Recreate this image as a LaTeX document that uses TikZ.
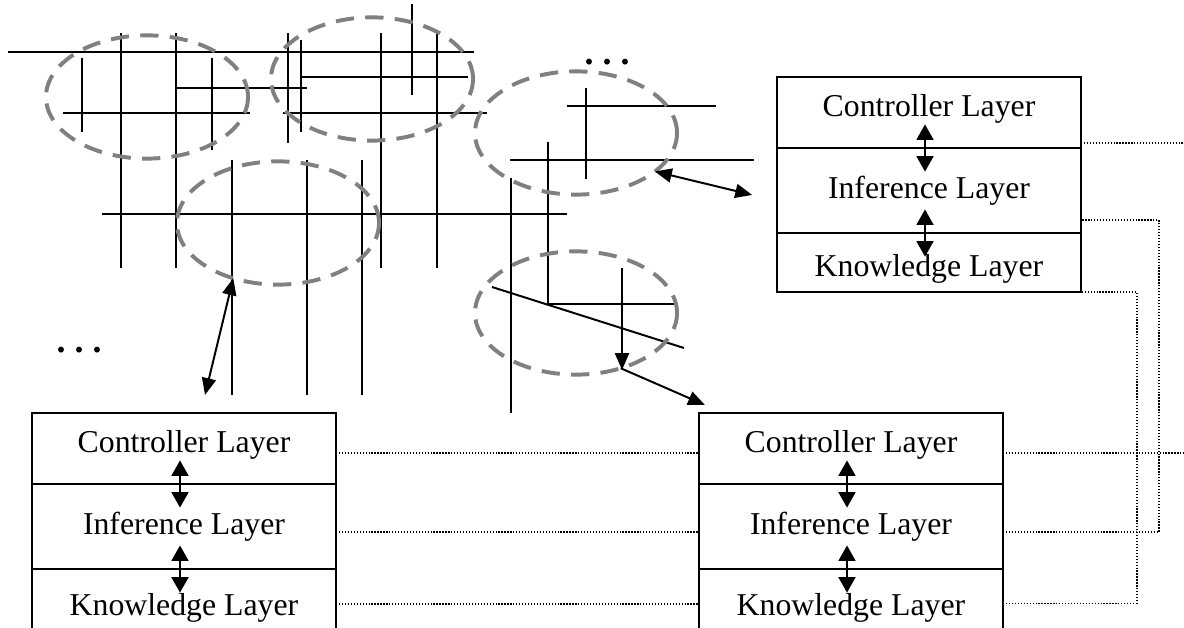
\documentclass[tikz,border=0pt]{standalone}
\usepackage{fontspec}
\setmainfont{Liberation Serif}
\usetikzlibrary{positioning, shapes.geometric, arrows.meta}

\begin{document}
\begin{tikzpicture}[
    x=0.025cm, y=-0.025cm, % one unit is one pixel of the sketch
    >={Triangle[length=12pt, width=10pt]},
    % Styles
    wire/.style={ % Network segments
        line width=1.4pt
    },
    region/.style={ % Dashed neighbourhood of an agent
        ellipse,
        draw=gray,
        line width=2.8pt,
        dash pattern=on 13pt off 8pt,
        minimum width=5.05cm,
        minimum height=3.08cm,
        inner sep=0pt,
        outer sep=0pt
    },
    layer/.style={ % One row of an agent box
        rectangle,
        draw,
        line width=1.5pt,
        minimum width=7.6cm,
        inner sep=0pt,
        outer sep=0pt,
        font=\fontsize{22.6}{27}\selectfont
    },
    ctrl/.style={layer, minimum height=1.775cm, text depth=10pt},
    infer/.style={layer, minimum height=2.125cm},
    know/.style={layer, minimum height=1.925cm},
    arrow/.style={<->, line width=1.4pt},
    updown/.style={ % Arrows between two layers
        {Triangle[length=11pt, width=12pt]}-{Triangle[length=11pt, width=12pt]},
        line width=1.5pt
    },
    link/.style={ % Dotted links between agents
        line width=0.9pt,
        dash pattern=on 0.9pt off 1.2pt
    },
    dots/.style={font=\fontsize{25.6}{30}\selectfont\bfseries, inner sep=0pt}
]
    \useasboundingbox (0,0) rectangle (1184,628);

    % Road network
    \foreach \x/\ya/\yb in {121/33/268, 176/33/268, 82/58/132, 212/58/150,
        288/33/143, 301/40/132, 381/33/268, 412/4/95, 437/33/268,
        232/160/395, 307/160/395, 362/160/395, 511/178/413, 548/142/304,
        586/88/179}
        \draw[wire] (\x,\ya) -- (\x,\yb);
    \foreach \y/\xa/\xb in {52/8/474, 88/176/307, 113/63/250, 77/301/468,
        113/283/487, 214/102/567, 160/510/754, 106/567/716, 304/548/677}
        \draw[wire] (\xa,\y) -- (\xb,\y);
    \draw[wire] (492,287) -- (684,348);
    \draw[wire, ->] (622,268) -- (622,370);

    % Agent regions
    \node[region] (r1) at (147,97) {};
    \node[region] (r2) at (372,79) {};
    \node[region] (r3) at (278,223) {};
    \node[region] (r4) at (576,133) {};
    \node[region] (r5) at (576,313) {};

    \node[dots] (moreTop) at (607,62) {.\ .\ .};
    \node[dots] (moreLeft) at (79,350) {.\ .\ .};

    % Agent boxes
    \node[ctrl, anchor=north] (ctrlA) at (929,77) {Controller Layer};
    \node[infer] (infA) [below=0pt of ctrlA] {Inference Layer};
    \node[know, minimum height=1.475cm, text height=24.5pt] (knowA) [below=0pt of infA] {Knowledge Layer};

    \node[ctrl, anchor=north] (ctrlB) at (184,413) {Controller Layer};
    \node[infer] (infB) [below=0pt of ctrlB] {Inference Layer};
    \node[know] (knowB) [below=0pt of infB] {Knowledge Layer};

    \node[ctrl, anchor=north] (ctrlC) at (851,413) {Controller Layer};
    \node[infer] (infC) [below=0pt of ctrlC] {Inference Layer};
    \node[know] (knowC) [below=0pt of infC] {Knowledge Layer};

    \foreach \b in {A,B,C} {
        \draw[updown] ([xshift=-0.1cm, yshift=0.59cm]ctrl\b.south) -- ([xshift=-0.1cm, yshift=-0.59cm]ctrl\b.south);
        \draw[updown] ([xshift=-0.1cm, yshift=0.59cm]inf\b.south) -- ([xshift=-0.1cm, yshift=-0.59cm]inf\b.south);
    }

    % Regions to agents
    \draw[arrow] (r4.-26) -- ([xshift=-0.62cm, yshift=-0.11cm]infA.west);
    \draw[arrow] (r3.231) -- ([xshift=0.525cm, yshift=0.45cm]ctrlB.north);
    \draw[->, line width=1.4pt] (r5.-51) -- ([xshift=0.15cm, yshift=0.2cm]ctrlC.north west);

    % Links between agents
    \coordinate (rim) at (1184,0);
    \coordinate (busI) at (1159,0);
    \coordinate (busK) at (1137,0);
    \coordinate (outA) at ([yshift=0.125cm]ctrlA.south east);
    \coordinate (outC) at ([yshift=-0.11cm]ctrlC.east);
    \coordinate (infAport) at ([yshift=-0.74cm]infA.east);
    \coordinate (infCport) at ([yshift=-0.14cm]infC.east);
    \coordinate (knowCport) at ([yshift=0.11cm]knowC.east);

    \draw[link] (outA) -- (outA -| rim);
    \draw[link] (outC) -- (outC -| rim);
    \draw[link] ([yshift=-0.11cm]ctrlB.east) -- ([yshift=-0.11cm]ctrlC.west);
    \draw[link] ([yshift=-0.14cm]infB.east) -- ([yshift=-0.14cm]infC.west);
    \draw[link] ([yshift=0.09cm]knowB.east) -- ([yshift=0.09cm]knowC.west);
    \draw[link] (infCport) -| (busI |- infAport) -- (infAport);
    \draw[link] (knowCport) -| (busK |- knowA.south east) -- (knowA.south east);
\end{tikzpicture}
\end{document}
